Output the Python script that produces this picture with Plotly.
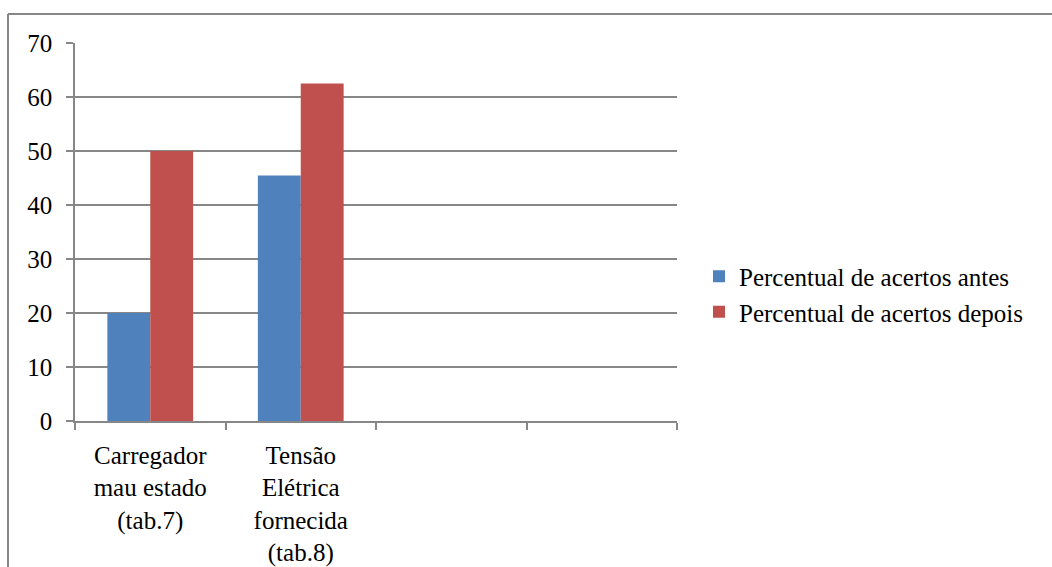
import plotly.graph_objects as go

# Categories (two empty slots keep the axis divided into four)
categorias = ["Carregador<br>mau estado<br>(tab.7)",
              "Tensão<br>Elétrica<br>fornecida<br>(tab.8)",
              " ", "  "]
antes = [20, 45.45, None, None]
depois = [50, 62.5, None, None]
nome_antes = "Percentual de acertos antes"
nome_depois = "Percentual de acertos depois"

W, H = 1052, 567
L, R, T, B = 75, 375, 43, 146
pw, ph = W - L - R, H - T - B

fonte = "'Liberation Serif', 'Times New Roman', Times, serif"
cinza = "#878787"

fig = go.Figure()
fig.add_trace(go.Bar(x=categorias, y=antes, name=nome_antes,
                     marker=dict(color="#4F81BD", line=dict(width=0))))
fig.add_trace(go.Bar(x=categorias, y=depois, name=nome_depois,
                     marker=dict(color="#C0504D", line=dict(width=0))))

def px_to_paper_x(px):
    return (px - L) / pw

def px_to_paper_y(py):
    return 1 - (py - T) / ph

fig.update_layout(
    width=W, height=H,
    margin=dict(l=L, r=R, t=T, b=B, autoexpand=False),
    paper_bgcolor="white", plot_bgcolor="white",
    font=dict(family=fonte, size=25, color="black"),
    barmode="group", bargap=0.43, bargroupgap=0,
    showlegend=True,
    legend=dict(x=px_to_paper_x(699), y=px_to_paper_y(294), xanchor="left", yanchor="middle",
                font=dict(family=fonte, size=25, color="black"),
                bgcolor="rgba(0,0,0,0)", tracegroupgap=0, itemwidth=30),
    xaxis=dict(type="category", categoryorder="array", categoryarray=categorias,
               range=[-0.5, 3.5], showline=True, linecolor=cinza, linewidth=1.5,
               ticks="outside", tickson="boundaries", ticklen=7, tickcolor=cinza,
               tickwidth=1.5, showgrid=False, fixedrange=True,
               ticklabelstandoff=11,
               tickfont=dict(family=fonte, size=25, color="black")),
    yaxis=dict(range=[0, 70], dtick=10, showline=True, linecolor=cinza, linewidth=1.5,
               ticks="outside", ticklen=7, tickcolor=cinza, tickwidth=1.5,
               showgrid=True, gridcolor=cinza, gridwidth=1.5, zeroline=False,
               ticklabelstandoff=9, fixedrange=True,
               tickfont=dict(family=fonte, size=25, color="black")),
    shapes=[
        dict(type="line", xref="paper", yref="paper",
             x0=px_to_paper_x(8), x1=px_to_paper_x(W + 5),
             y0=px_to_paper_y(14), y1=px_to_paper_y(14),
             line=dict(color=cinza, width=2)),
        dict(type="line", xref="paper", yref="paper",
             x0=px_to_paper_x(8), x1=px_to_paper_x(8),
             y0=px_to_paper_y(14), y1=px_to_paper_y(H + 5),
             line=dict(color=cinza, width=2)),
    ],
)

fig.write_html("out.html")
